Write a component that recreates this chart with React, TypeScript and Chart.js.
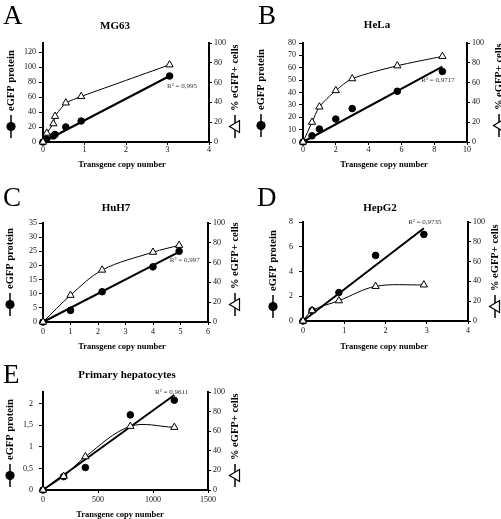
import React, { useEffect, useRef } from "react";
import { Chart, registerables } from "chart.js";

Chart.register(...registerables);

const SERIF = '"Liberation Serif", "Times New Roman", "DejaVu Serif", serif';

// ---------- Panel A : MG63 ----------
const mg63Copies = [0, 0.09, 0.25, 0.29, 0.55, 0.92, 3.05];
const mg63Protein = [0, 4, 8, 10, 20, 28, 88];
const mg63Cells = [0, 9, 18.5, 26, 39.5, 46, 78];
const mg63TrendX = [0, 3.05];
const mg63TrendY = [0, 88];
const mg63XTicks = [0, 1, 2, 3, 4];
const mg63YTicks = [0, 20, 40, 60, 80, 100, 120];

// ---------- Panel B : HeLa ----------
const helaCopies = [0, 0.55, 1.0, 2.0, 3.0, 5.75, 8.5];
const helaProtein = [0, 5, 10.5, 18.5, 27, 41, 57];
const helaCells = [0, 20, 35.5, 52, 64, 77, 86.5];
const helaTrendX = [0, 8.5];
const helaTrendY = [0, 61];
const helaXTicks = [0, 2, 4, 6, 8, 10];
const helaYTicks = [0, 10, 20, 30, 40, 50, 60, 70, 80];

// ---------- Panel C : HuH7 ----------
const huh7Copies = [0, 1.0, 2.15, 4.0, 4.95];
const huh7Protein = [0, 4.1, 10.7, 19.5, 25];
const huh7Cells = [0, 27, 52.5, 70.5, 77.5];
const huh7TrendX = [0, 4.95];
const huh7TrendY = [0, 24.8];
const huh7XTicks = [0, 1, 2, 3, 4, 5, 6];
const huh7YTicks = [0, 5, 10, 15, 20, 25, 30, 35];

// ---------- Panel D : HepG2 ----------
const hepg2Copies = [0, 0.22, 0.87, 1.76, 2.93];
const hepg2Protein = [0, 0.85, 2.3, 5.3, 7.0];
const hepg2Cells = [0, 10.5, 20.5, 35, 36.5];
const hepg2TrendX = [0, 2.93];
const hepg2TrendY = [0, 7.5];
const hepg2XTicks = [0, 1, 2, 3, 4];
const hepg2YTicks = [0, 2, 4, 6, 8];

// ---------- Panel E : Primary hepatocytes ----------
const hepCopies = [0, 188, 385, 794, 1194];
const hepProtein = [0, 0.31, 0.52, 1.74, 2.08];
const hepCells = [0, 14, 34, 65, 64];
const hepTrendX = [0, 1194];
const hepTrendY = [0, 2.2];
const hepXTicks = [0, 500, 1000, 1500];
const hepYTicks = [0, 0.5, 1, 1.5, 2];

// right axis (% eGFP+ cells) shared ticks
const cellTicks = [0, 20, 40, 60, 80, 100];

const X_TITLE = "Transgene copy number";
const LEFT_TITLE = "eGFP protein";
const RIGHT_TITLE = "% eGFP+ cells";

type Box = { x: number; y: number; w: number; h: number };
type Panel = {
  letter: string;
  title: string;
  canvas: Box;
  area: { l: number; r: number; t: number; b: number };
  copies: number[];
  protein: number[];
  cells: number[];
  trendX: number[];
  trendY: number[];
  xTicks: number[];
  yTicks: number[];
  yMax: number;
  tension: number;
  r2: { text: string; x: number; y: number };
  letterPos: { x: number; y: number };
  titlePos: { x: number; y: number };
  xTitlePos: { x: number; y: number };
  leftLabelX: number;
  rightLabelX: number;
  labelBottom: number;
  yPad: number;
  xPad: number;
};

const panels: Panel[] = [
  {
    letter: "A", title: "MG63",
    canvas: { x: 0, y: 0, w: 250, h: 175 },
    area: { l: 43, r: 209, t: 43, b: 142 },
    copies: mg63Copies, protein: mg63Protein, cells: mg63Cells,
    trendX: mg63TrendX, trendY: mg63TrendY,
    xTicks: mg63XTicks, yTicks: mg63YTicks, yMax: 132, tension: 0.12,
    r2: { text: "R² = 0,995", x: 3.71, y: 75 },
    letterPos: { x: 3, y: 24 }, titlePos: { x: 115, y: 26 }, xTitlePos: { x: 122, y: 165 },
    leftLabelX: 11, rightLabelX: 235, labelBottom: 138, yPad: 3, xPad: 0,
  },
  {
    letter: "B", title: "HeLa",
    canvas: { x: 250, y: 0, w: 251, h: 175 },
    area: { l: 303, r: 467, t: 43, b: 142 },
    copies: helaCopies, protein: helaProtein, cells: helaCells,
    trendX: helaTrendX, trendY: helaTrendY,
    xTicks: helaXTicks, yTicks: helaYTicks, yMax: 80, tension: 0.25,
    r2: { text: "R² = 0,9717", x: 9.25, y: 50 },
    letterPos: { x: 258, y: 24 }, titlePos: { x: 377, y: 25 }, xTitlePos: { x: 384, y: 165 },
    leftLabelX: 261, rightLabelX: 499, labelBottom: 137, yPad: 3, xPad: 0,
  },
  {
    letter: "C", title: "HuH7",
    canvas: { x: 0, y: 175, w: 250, h: 180 },
    area: { l: 43, r: 208, t: 223, b: 322 },
    copies: huh7Copies, protein: huh7Protein, cells: huh7Cells,
    trendX: huh7TrendX, trendY: huh7TrendY,
    xTicks: huh7XTicks, yTicks: huh7YTicks, yMax: 35, tension: 0.35,
    r2: { text: "R² = 0,997", x: 5.7, y: 21.8 },
    letterPos: { x: 3, y: 206 }, titlePos: { x: 116, y: 208 }, xTitlePos: { x: 122, y: 347 },
    leftLabelX: 10, rightLabelX: 235, labelBottom: 316, yPad: 2, xPad: 2,
  },
  {
    letter: "D", title: "HepG2",
    canvas: { x: 250, y: 175, w: 251, h: 180 },
    area: { l: 303, r: 468, t: 222, b: 321 },
    copies: hepg2Copies, protein: hepg2Protein, cells: hepg2Cells,
    trendX: hepg2TrendX, trendY: hepg2TrendY,
    xTicks: hepg2XTicks, yTicks: hepg2YTicks, yMax: 8, tension: 0.35,
    r2: { text: "R² = 0,9735", x: 3.36, y: 8.0 },
    letterPos: { x: 257, y: 206 }, titlePos: { x: 380, y: 208 }, xTitlePos: { x: 384, y: 347 },
    leftLabelX: 273, rightLabelX: 495, labelBottom: 318, yPad: 6, xPad: 2,
  },
  {
    letter: "E", title: "Primary hepatocytes",
    canvas: { x: 0, y: 355, w: 250, h: 164 },
    area: { l: 43, r: 208, t: 392, b: 490 },
    copies: hepCopies, protein: hepProtein, cells: hepCells,
    trendX: hepTrendX, trendY: hepTrendY,
    xTicks: hepXTicks, yTicks: hepYTicks, yMax: 2.27, tension: 0.35,
    r2: { text: "R² = 0,9611", x: 1321, y: 2.27 },
    letterPos: { x: 3, y: 383 }, titlePos: { x: 127, y: 375 }, xTitlePos: { x: 120, y: 515 },
    leftLabelX: 10, rightLabelX: 235, labelBottom: 487, yPad: 6, xPad: 2,
  },
];

const fmt = (v: number) => String(v).replace(".", ",");

function drawAxisLabel(ctx: CanvasRenderingContext2D, x: number, bottom: number, text: string, kind: "circle" | "triangle") {
  ctx.save();
  ctx.translate(x, bottom);
  ctx.rotate(-Math.PI / 2);
  ctx.strokeStyle = "#000";
  ctx.fillStyle = "#000";
  ctx.lineWidth = 1.5;
  ctx.beginPath();
  ctx.moveTo(0, 0);
  ctx.lineTo(23, 0);
  ctx.stroke();
  if (kind === "circle") {
    ctx.beginPath();
    ctx.arc(11.5, 0, 4.6, 0, Math.PI * 2);
    ctx.fill();
  } else {
    ctx.beginPath();
    ctx.moveTo(11.5 - 6, 4.5);
    ctx.lineTo(11.5 + 6, 4.5);
    ctx.lineTo(11.5, -5.5);
    ctx.closePath();
    ctx.fillStyle = "#fff";
    ctx.fill();
    ctx.lineWidth = 1.2;
    ctx.stroke();
    ctx.fillStyle = "#000";
  }
  ctx.font = `bold 10.5px ${SERIF}`;
  ctx.textAlign = "left";
  ctx.textBaseline = "middle";
  ctx.fillText(text, 27, 0.5);
  ctx.restore();
}

function makeDecor(p: Panel) {
  return {
    id: "decor",
    afterDraw(chart: any) {
      const ctx: CanvasRenderingContext2D = chart.ctx;
      const ox = p.canvas.x;
      const oy = p.canvas.y;
      ctx.save();
      ctx.fillStyle = "#000";
      ctx.font = `27px ${SERIF}`;
      ctx.textAlign = "left";
      ctx.textBaseline = "alphabetic";
      ctx.fillText(p.letter, p.letterPos.x - ox, p.letterPos.y - oy);

      ctx.font = `bold 11px ${SERIF}`;
      ctx.textAlign = "center";
      ctx.textBaseline = "middle";
      ctx.fillText(p.title, p.titlePos.x - ox, p.titlePos.y - oy);

      ctx.font = `bold 8.5px ${SERIF}`;
      ctx.fillText(X_TITLE, p.xTitlePos.x - ox, p.xTitlePos.y - oy);

      const xs = chart.scales.x;
      const ys = chart.scales.y;
      ctx.font = `7px ${SERIF}`;
      ctx.fillStyle = "#333";
      ctx.textAlign = "right";
      ctx.fillText(p.r2.text, xs.getPixelForValue(p.r2.x), ys.getPixelForValue(p.r2.y));

      drawAxisLabel(ctx, p.leftLabelX - ox, p.labelBottom - oy, LEFT_TITLE, "circle");
      drawAxisLabel(ctx, p.rightLabelX - ox, p.labelBottom - oy, RIGHT_TITLE, "triangle");
      ctx.restore();
    },
  };
}

function buildConfig(p: Panel): any {
  const c = p.canvas;
  const tickFont = { family: SERIF, size: 8 };
  const grid = { drawOnChartArea: false, drawTicks: true, tickLength: 4, color: "#000", lineWidth: 1 };
  const border = { display: true, color: "#000", width: 2 };
  return {
    type: "line",
    data: {
      datasets: [
        {
          label: RIGHT_TITLE,
          data: p.copies.map((x, i) => ({ x, y: p.cells[i] })),
          yAxisID: "y1",
          borderColor: "#000",
          borderWidth: 1,
          tension: p.tension,
          pointStyle: "triangle",
          pointRadius: 4.2,
          pointBackgroundColor: "#fff",
          pointBorderColor: "#000",
          pointBorderWidth: 1,
          clip: false,
          order: 0,
        },
        {
          label: LEFT_TITLE,
          data: p.copies.map((x, i) => ({ x, y: p.protein[i] })),
          yAxisID: "y",
          showLine: false,
          pointStyle: "circle",
          pointRadius: 3.3,
          pointBackgroundColor: "#000",
          pointBorderColor: "#000",
          pointBorderWidth: 1,
          clip: false,
          order: 1,
        },
        {
          label: "trend",
          data: p.trendX.map((x, i) => ({ x, y: p.trendY[i] })),
          yAxisID: "y",
          borderColor: "#000",
          borderWidth: 2,
          pointRadius: 0,
          tension: 0,
          clip: false,
          order: 2,
        },
      ],
    },
    options: {
      animation: false,
      responsive: false,
      events: [],
      layout: { padding: { top: p.area.t - c.y, left: 0, right: 0, bottom: 0 } },
      plugins: { legend: { display: false }, tooltip: { enabled: false }, title: { display: false } },
      scales: {
        x: {
          type: "linear",
          position: "bottom",
          min: p.xTicks[0],
          max: p.xTicks[p.xTicks.length - 1],
          afterBuildTicks: (s: any) => { s.ticks = p.xTicks.map((v) => ({ value: v })); },
          afterFit: (s: any) => { s.height = c.y + c.h - p.area.b; },
          ticks: { font: tickFont, color: "#111", padding: p.xPad, maxRotation: 0, autoSkip: false, callback: (v: number) => fmt(v) },
          grid: { ...grid, tickLength: 3 },
          border,
        },
        y: {
          type: "linear",
          position: "left",
          min: 0,
          max: p.yMax,
          afterBuildTicks: (s: any) => { s.ticks = p.yTicks.map((v) => ({ value: v })); },
          afterFit: (s: any) => { s.width = p.area.l - c.x; },
          ticks: { font: tickFont, color: "#111", padding: p.yPad, autoSkip: false, callback: (v: number) => fmt(v) },
          grid,
          border,
        },
        y1: {
          type: "linear",
          position: "right",
          min: 0,
          max: 100,
          afterBuildTicks: (s: any) => { s.ticks = cellTicks.map((v) => ({ value: v })); },
          afterFit: (s: any) => { s.width = c.x + c.w - p.area.r; },
          ticks: { font: tickFont, color: "#111", padding: 2, autoSkip: false, callback: (v: number) => fmt(v) },
          grid: { ...grid, tickLength: 3 },
          border,
        },
      },
    },
    plugins: [makeDecor(p)],
  };
}

function PanelChart({ p }: { p: Panel }) {
  const ref = useRef<HTMLCanvasElement>(null);
  useEffect(() => {
    if (!ref.current) return;
    const chart = new Chart(ref.current, buildConfig(p));
    return () => chart.destroy();
  }, [p]);
  return (
    <canvas
      ref={ref}
      width={p.canvas.w}
      height={p.canvas.h}
      style={{ position: "absolute", left: p.canvas.x, top: p.canvas.y, width: p.canvas.w, height: p.canvas.h }}
    />
  );
}

export default function App() {
  return (
    <div style={{ position: "absolute", left: 0, top: 0, width: 501, height: 519, background: "#fff", overflow: "hidden" }}>
      {panels.map((p) => (
        <PanelChart key={p.letter} p={p} />
      ))}
    </div>
  );
}
